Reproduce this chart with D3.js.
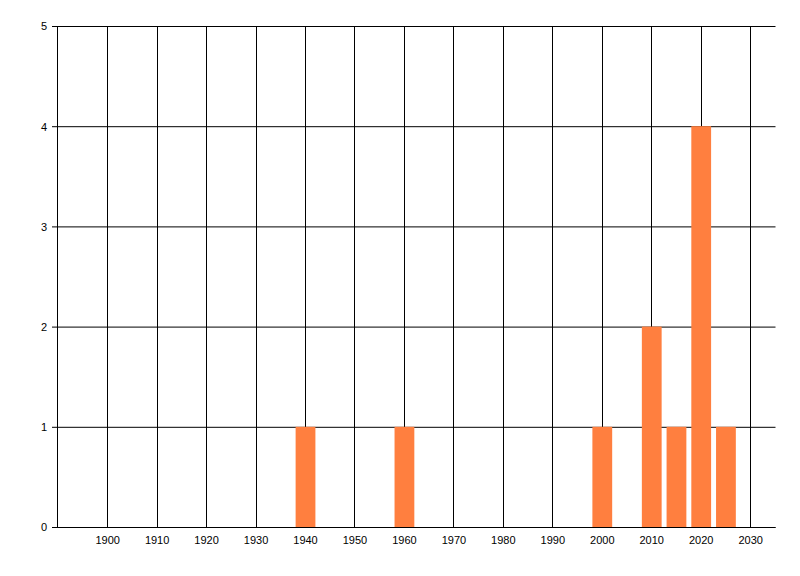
<!DOCTYPE html>
<html><head><meta charset="utf-8">
<script src="https://cdn.jsdelivr.net/npm/d3@7"></script>
<style>body{margin:0;background:#fff}svg{display:block}</style>
</head><body><svg id="c" width="800" height="576"></svg>
<script>
const years = [1940, 1960, 2000, 2010, 2015, 2020, 2025];
const counts = [1, 1, 1, 2, 1, 4, 1];
const xTicks = [1900, 1910, 1920, 1930, 1940, 1950, 1960, 1970, 1980, 1990, 2000, 2010, 2020, 2030];
const yTicks = [0, 1, 2, 3, 4, 5];

const svg = d3.select("#c");
const x = d3.scaleLinear().domain([1890, 2035]).range([58.2, 775.4]);
const y = d3.scaleLinear().domain([0, 5]).range([527.5, 26.5]);
const font = "'Liberation Sans', Arial, sans-serif";

// vertical gridlines
svg.append("g").selectAll("line").data(xTicks).join("line")
  .attr("x1", d => Math.floor(x(d)) + 0.5).attr("x2", d => Math.floor(x(d)) + 0.5)
  .attr("y1", y(5)).attr("y2", y(0))
  .attr("stroke", "#000").attr("stroke-width", 1);

// horizontal gridlines + tick marks
svg.append("g").selectAll("line").data(yTicks).join("line")
  .attr("x1", 52).attr("x2", 775.5)
  .attr("y1", d => y(d)).attr("y2", d => y(d))
  .attr("stroke", "#000").attr("stroke-width", 1);

// bars
const bw = 4;
svg.append("g").selectAll("rect").data(years.map((yr, i) => ({yr, v: counts[i]}))).join("rect")
  .attr("x", d => x(d.yr - bw / 2))
  .attr("width", d => x(d.yr + bw / 2) - x(d.yr - bw / 2))
  .attr("y", d => y(d.v) - 0.5)
  .attr("height", d => y(0) - y(d.v))
  .attr("fill", "#ff7f3f");

// axis lines
svg.append("line").attr("x1", 57.5).attr("x2", 57.5).attr("y1", y(5)).attr("y2", y(0)).attr("stroke", "#000");
svg.append("line").attr("x1", 52).attr("x2", 775.5).attr("y1", y(0)).attr("y2", y(0)).attr("stroke", "#000");

// y labels
svg.append("g").selectAll("text").data(yTicks).join("text")
  .attr("x", 47).attr("y", d => y(d)).attr("dy", "0.35em")
  .attr("text-anchor", "end").attr("font-family", font).attr("font-size", 11)
  .text(d => d);

// x labels
svg.append("g").selectAll("text").data(xTicks).join("text")
  .attr("x", d => x(d)).attr("y", 540).attr("dy", "0.35em")
  .attr("text-anchor", "middle").attr("font-family", font).attr("font-size", 11)
  .text(d => d);
</script></body></html>
